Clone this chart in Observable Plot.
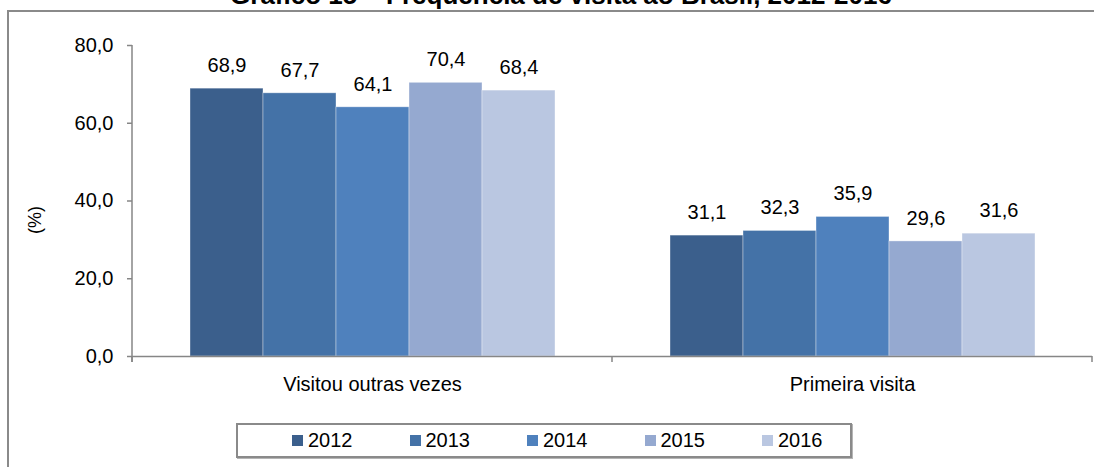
<!DOCTYPE html>
<html>
<head>
<meta charset="utf-8">
<script src="https://cdn.jsdelivr.net/npm/d3@7"></script>
<script src="https://cdn.jsdelivr.net/npm/@observablehq/plot@0.6"></script>
<style>
  html, body { margin: 0; padding: 0; background: #fff; }
  #wrap { position: relative; width: 1094px; height: 467px; overflow: hidden; font-family: "Liberation Sans", Arial, sans-serif; }
  #chart { position: absolute; left: 0; top: 0; }
  #frame { position: absolute; left: 7px; top: 10px; width: 1200px; height: 600px; border-left: 2px solid #8a8a8a; border-top: 2px solid #8a8a8a; pointer-events: none; }
  #title { position: absolute; left: 0; top: -18px; width: 1122px; text-align: center; font-weight: bold; font-size: 26px; line-height: 26px; color: #000; white-space: nowrap; }
  #legend { position: absolute; left: 236px; top: 423px; width: 616px; height: 31px; border: 2px solid #8a8a8a; box-shadow: 1px 1px 0 #b5b5b5; display: flex; align-items: center; padding-left: 54px; box-sizing: border-box; height: 35px; }
  #legend .item { display: flex; align-items: center; margin-right: 57px; font-size: 20px; color: #000; }
  #legend .sw { width: 11px; height: 11px; margin-right: 5px; }
  #ylab { position: absolute; left: 35px; top: 220px; transform: translate(-50%, -50%) rotate(-90deg); font-size: 18px; white-space: nowrap; color: #000; }
</style>
</head>
<body>
<div id="wrap">
  <div id="chart"></div>
  <div id="frame"></div>
  <div id="title">Gráfico 15 – Frequência de visita ao Brasil, 2012-2016</div>
  <div id="ylab">(%)</div>
  <div id="legend"></div>
</div>
<script>
const categories = ["Visitou outras vezes", "Primeira visita"];
const years = ["2012", "2013", "2014", "2015", "2016"];
const visitouOutrasVezes = [68.9, 67.7, 64.1, 70.4, 68.4];
const primeiraVisita = [31.1, 32.3, 35.9, 29.6, 31.6];
const yTicks = [0, 20, 40, 60, 80];
const yearColors = ["#3b5f8c", "#4472a7", "#4f81bd", "#95a9d0", "#bac7e1"];

const seriesByCategory = [visitouOutrasVezes, primeiraVisita];
const data = [];
categories.forEach((c, i) => years.forEach((yr, j) => data.push({cat: c, year: yr, value: seriesByCategory[i][j]})));

const fmt = v => d3.format(".1f")(v).replace(".", ",");
const gray = "#868686";

const chart = Plot.plot({
  width: 1094,
  height: 467,
  marginLeft: 132,
  marginRight: 2,
  marginTop: 45,
  marginBottom: 111,
  style: {background: "transparent", fontFamily: "'Liberation Sans', Arial, sans-serif", color: "#000"},
  fx: {domain: categories, padding: 0, label: null},
  x: {domain: years, paddingInner: 0, paddingOuter: 0.757, axis: null},
  y: {domain: [0, 80], label: null},
  color: {domain: years, range: yearColors},
  marks: [
    Plot.barY(data, {fx: "cat", x: "year", y: "value", fill: "year", inset: 0, stroke: "#ffffff", strokeOpacity: 0.45, strokeWidth: 0.8}),
    Plot.text(data, {fx: "cat", x: "year", y: "value", text: d => fmt(d.value), dy: -23, fontSize: 20, fill: "#000"}),
    Plot.ruleY([0], {stroke: gray, strokeWidth: 1.5}),
    Plot.axisY({ticks: yTicks, tickFormat: fmt, tickSize: 5, tickPadding: 14, fontSize: 20, stroke: gray, strokeWidth: 1.5, label: null, fill: "#000"}),
    Plot.axisFx({anchor: "bottom", tickSize: 0, tickPadding: 20, fontSize: 20, label: null, fill: "#000"})
  ]
});
document.getElementById("chart").appendChild(chart);

// Axis line and category boundary ticks derived from the plot's scales
const fxs = chart.scale("fx");
const ys = chart.scale("y");
const svg = d3.select(chart);
const y0 = ys.apply(0), yTop = ys.apply(80);
const xLeft = fxs.apply(categories[0]);
const g = svg.append("g").attr("stroke", gray).attr("stroke-width", 1.5);
g.append("line").attr("x1", xLeft).attr("x2", xLeft).attr("y1", yTop).attr("y2", y0 + 6);
categories.forEach((c, i) => {
  const x = fxs.apply(c);
  g.append("line").attr("x1", x).attr("x2", x).attr("y1", y0).attr("y2", y0 + 6);
  if (i === categories.length - 1) {
    const xe = x + fxs.bandwidth;
    g.append("line").attr("x1", xe).attr("x2", xe).attr("y1", y0).attr("y2", y0 + 6);
  }
});

// Legend
const legend = document.getElementById("legend");
years.forEach((yr, i) => {
  const it = document.createElement("div");
  it.className = "item";
  const sw = document.createElement("span");
  sw.className = "sw";
  sw.style.background = yearColors[i];
  it.appendChild(sw);
  it.appendChild(document.createTextNode(yr));
  legend.appendChild(it);
});
</script>
</body>
</html>
